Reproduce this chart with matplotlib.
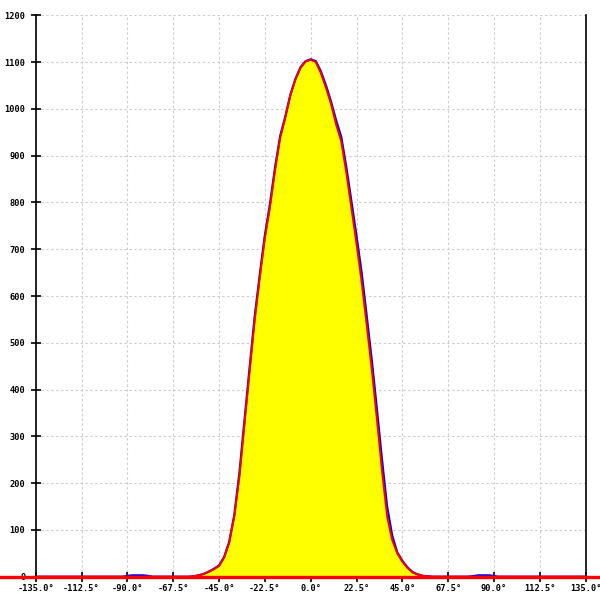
import matplotlib
matplotlib.use('Agg')
import matplotlib.pyplot as plt

# angle in degrees
angles = [-135.0, -92.5, -89.5, -87.5, -85.0, -82.5, -80.3, -77.5, -60.0, -57.5, -55.0, -52.5, -50.0,
          -47.5, -45.0, -42.5, -40.0, -37.5, -35.0, -32.5, -30.0, -27.5, -25.0, -22.5, -20.0,
          -17.5, -15.0, -12.5, -10.0, -7.5, -5.0, -2.5, 0.0, 2.5, 5.0, 7.5, 10.0, 12.5, 15.0,
          17.5, 20.0, 22.5, 25.0, 27.5, 30.0, 32.5, 35.0, 37.5, 40.0, 42.5, 45.0, 47.5, 50.0,
          52.5, 55.0, 57.5, 60.0, 77.0, 79.0, 82.5, 85.0, 87.5, 89.6, 92.0, 135.0]

measured = [0, 0, 2, 3, 3, 3, 2, 0, 0, 1, 3, 6, 11,
            17, 24, 42, 75, 132, 222, 335, 447, 556, 646, 730, 797,
            875, 942, 983, 1030, 1064, 1089, 1102, 1106, 1102, 1080, 1050, 1015, 975, 940,
            875, 802, 728, 650, 557, 462, 358, 250, 150, 88, 52, 34, 20, 10,
            5, 2, 1, 0, 0, 1, 3, 3, 3, 2, 0, 0]

fitted = [0, 0, 0, 0, 0, 0, 0, 0, 0, 1, 3, 6, 11,
          16, 23, 41, 73, 130, 214, 327, 439, 548, 640, 724, 790,
          869, 938, 981, 1029, 1063, 1088, 1101, 1105, 1100, 1076, 1045, 1010, 966, 930,
          863, 787, 711, 630, 537, 442, 336, 226, 129, 78, 50, 32, 19, 9,
          5, 2, 1, 0, 0, 0, 0, 0, 0, 0, 0, 0]

x_ticks = [-135.0, -112.5, -90.0, -67.5, -45.0, -22.5, 0.0, 22.5, 45.0, 67.5, 90.0, 112.5, 135.0]
y_ticks = [0, 100, 200, 300, 400, 500, 600, 700, 800, 900, 1000, 1100, 1200]

fig = plt.figure(figsize=(6, 6), dpi=100)
ax = fig.add_axes([0.0595, 0.0388, 0.9167, 0.9357])

ax.fill_between(angles, measured, 0, color='#ffff00', linewidth=0, zorder=2)
ax.plot(angles, measured, color='#0000ff', linewidth=1.6, zorder=3)
ax.plot(angles, fitted, color='#ff0000', linewidth=1.4, zorder=4)
ax.axhline(0, xmin=-0.07, xmax=1.03, color='#ff0000', linewidth=2.4, clip_on=False, zorder=5)

ax.set_xlim(-135, 135)
ax.set_ylim(0, 1200)
ax.set_xticks(x_ticks)
ax.set_xticklabels([f'{t:.1f}°' for t in x_ticks])
ax.set_yticks(y_ticks)
ax.set_yticklabels([str(t) for t in y_ticks])

ax.grid(True, color='#cccccc', linestyle=(0, (2.2, 2.2)), linewidth=0.8, zorder=1)
ax.set_axisbelow(True)

ax.spines['top'].set_visible(False)
ax.spines['bottom'].set_visible(False)
ax.spines['left'].set_linewidth(1.2)
ax.spines['right'].set_linewidth(1.2)

ax.tick_params(axis='both', direction='inout', length=7, width=1.2, colors='black',
               labelsize=6.2, pad=2)
ax.tick_params(axis='y', pad=4)
for label in ax.get_xticklabels() + ax.get_yticklabels():
    label.set_family('DejaVu Sans Mono')
    label.set_fontweight('bold')

plt.savefig('out.png', dpi=100)
